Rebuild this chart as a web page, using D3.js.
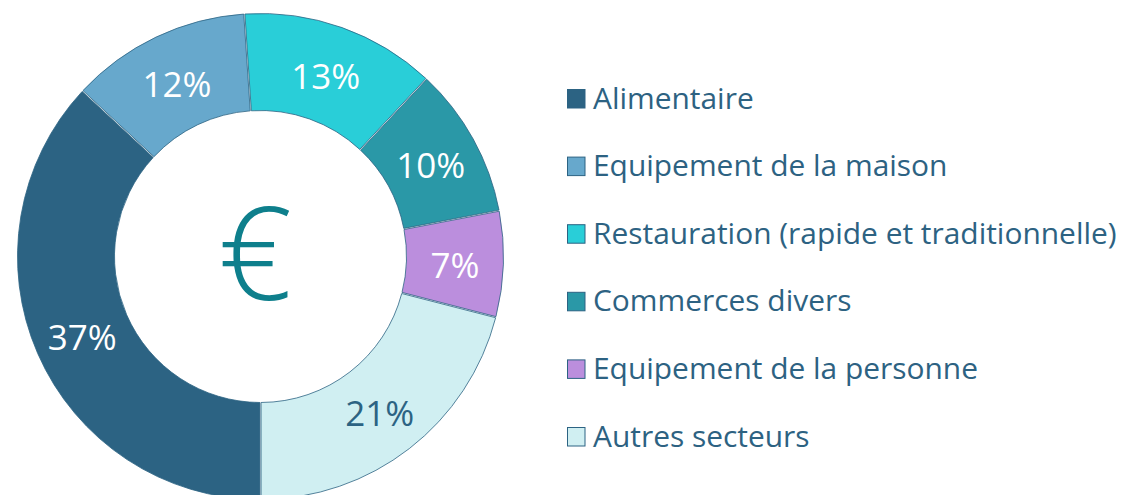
<!DOCTYPE html>
<html><head><meta charset="utf-8">
<script src="https://cdn.jsdelivr.net/npm/d3@7"></script>
<style>html,body{margin:0;padding:0;background:#fff;}svg{display:block;}</style>
</head><body>
<svg id="chart" width="1126" height="495"></svg>
<script>
const categories = ["Alimentaire","Equipement de la maison","Restauration (rapide et traditionnelle)","Commerces divers","Equipement de la personne","Autres secteurs"];
const values = [37,12,13,10,7,21];
const colors = ["#2c6383","#67a8cc","#29ced8","#2a98a7","#bb8edd","#d0eff2"];
const labelColors = ["#ffffff","#ffffff","#ffffff","#ffffff","#ffffff","#2c6383"];
const centerSymbol = "€";

const svg = d3.select("#chart");
const cx = 260.5, cy = 256.5, R = 243, r = 146;
const font = "'Open Sans', 'Noto Sans', sans-serif";
const textColor = "#2d6282";

const pie = d3.pie().sort(null).value(d => d).startAngle(Math.PI).endAngle(3*Math.PI).padAngle(0.004);
const arc = d3.arc().innerRadius(r).outerRadius(R);
const arcs = pie(values);

const g = svg.append("g").attr("transform", `translate(${cx},${cy})`);
g.selectAll("path").data(arcs).join("path")
  .attr("d", arc)
  .attr("fill", (d,i) => colors[i])
  .attr("stroke", "#2c6383")
  .attr("stroke-width", 0.8);

g.selectAll("text.pct").data(arcs).join("text")
  .attr("class","pct")
  .attr("transform", d => `translate(${arc.centroid(d)})`)
  .attr("text-anchor","middle")
  .attr("dy","0.45em")
  .attr("font-family", font)
  .attr("font-size", 35)
  .attr("fill", (d,i) => labelColors[i])
  .text(d => d.value + "%");

svg.append("text")
  .attr("x", 255).attr("y", 253)
  .attr("text-anchor","middle")
  .attr("dy","0.36em")
  .attr("font-family", font)
  .attr("font-weight", 300)
  .attr("font-size", 130)
  .attr("fill", "#0e7f8c")
  .text(centerSymbol);

const leg = svg.append("g");
const legY = d3.scalePoint().domain(categories).range([108.5, 446.5]);
const items = leg.selectAll("g").data(categories).join("g")
  .attr("transform", d => `translate(567,${legY(d)})`);
items.append("rect")
  .attr("x", 0.5).attr("y", -19).attr("width", 17.5).attr("height", 18.5)
  .attr("fill", (d,i) => colors[i])
  .attr("stroke", "#2c6383").attr("stroke-width", 1);
const texts = items.append("text")
  .attr("x", 26).attr("y", 0)
  .attr("font-family", font)
  .attr("font-size", 28)
  .attr("fill", textColor)
  .text(d => d);
let maxW = 0;
texts.each(function(){ maxW = Math.max(maxW, this.getComputedTextLength()); });
const fs = 28 * 524 / maxW;
texts.attr("font-size", fs);
</script>
</body></html>
